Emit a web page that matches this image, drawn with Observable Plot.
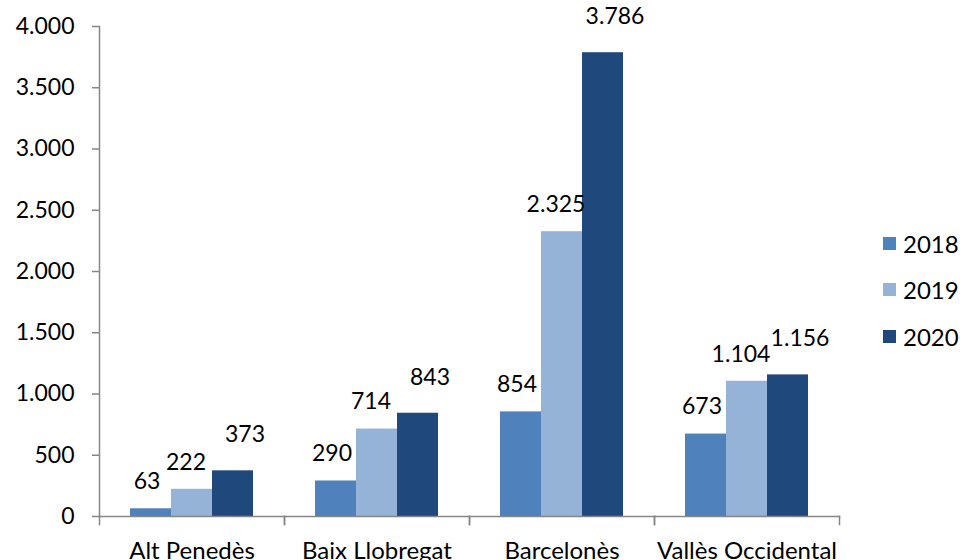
<!DOCTYPE html>
<html><head><meta charset="utf-8">
<script src="https://cdn.jsdelivr.net/npm/d3@7"></script>
<script src="https://cdn.jsdelivr.net/npm/@observablehq/plot@0.6"></script>
<style>
body{margin:0;background:#fff;}
#wrap{position:relative;width:960px;height:560px;font-family:Lato,sans-serif;overflow:hidden;}
#legend{position:absolute;left:883px;top:220px;}
.item{display:flex;align-items:center;height:46.5px;font-size:24px;color:#000;}
.sw{width:13px;height:13px;margin-right:7px;}
</style></head><body><div id="wrap"><div id="chart"></div><div id="legend"></div></div>
<script>
const regions = ["Alt Penedès", "Baix Llobregat", "Barcelonès", "Vallès Occidental"];
const years = ["2018", "2019", "2020"];
const v2018 = [63, 290, 854, 673];
const v2019 = [222, 714, 2325, 1104];
const v2020 = [373, 843, 3786, 1156];
const colors = ["#4F81BD", "#95B3D7", "#1F497D"];
const yTicks = [0, 500, 1000, 1500, 2000, 2500, 3000, 3500, 4000];

const series = [v2018, v2019, v2020];
const data = regions.flatMap((r, i) => years.map((y, j) => ({region: r, year: y, value: series[j][i]})));
const fmt = d3.formatLocale({decimal: ",", thousands: ".", grouping: [3]}).format(",d");
const gray = "#868686";

// label offsets per series (style only), like Excel's hand-placed labels
const labelStyle = {"2018": {dx: -4, dy: -27}, "2019": {dx: -6, dy: -27}, "2020": {dx: 12, dy: -36}};
const labelMarks = years.map(y => Plot.text(data.filter(d => d.year === y), {
  fx: "region", x: "year", y: "value", text: d => fmt(d.value),
  dx: labelStyle[y].dx, dy: labelStyle[y].dy, fontSize: 23, fill: "#000"
}));

const plot = Plot.plot({
  width: 860, height: 560,
  marginLeft: 97, marginRight: 20, marginTop: 26, marginBottom: 44,
  style: {fontFamily: "Lato, sans-serif", fontSize: "24px", color: "#000", background: "#fff", overflow: "visible"},
  fx: {domain: regions, padding: 0, label: null, axis: "bottom", tickSize: 0, tickPadding: 25},
  x: {domain: years, paddingInner: 0, paddingOuter: 0.75, axis: null},
  y: {domain: [0, 4000], axis: null},
  color: {domain: years, range: colors},
  marks: [
    Plot.barY(data, {fx: "region", x: "year", y: "value", fill: "year"}),
    ...labelMarks,
    Plot.axisY({ticks: yTicks, tickFormat: fmt, tickSize: 7, tickPadding: 18, stroke: gray, strokeWidth: 1.5, label: null, fontSize: 23, fill: "#000"}),
    Plot.frame({anchor: "left", facetAnchor: "left", stroke: gray, strokeWidth: 1.5}),
    Plot.frame({anchor: "bottom", stroke: gray, strokeWidth: 1.5}),
    Plot.frame({anchor: "left", stroke: gray, strokeWidth: 1.5, insetTop: 490, insetBottom: -8}),
    Plot.frame({anchor: "right", stroke: gray, strokeWidth: 1.5, insetTop: 490, insetBottom: -8})
  ]
});
document.getElementById("chart").appendChild(plot);

const legend = d3.select("#legend");
years.forEach((y, j) => {
  const it = legend.append("div").attr("class", "item");
  it.append("div").attr("class", "sw").style("background", colors[j]);
  it.append("span").text(y);
});
</script></body></html>
